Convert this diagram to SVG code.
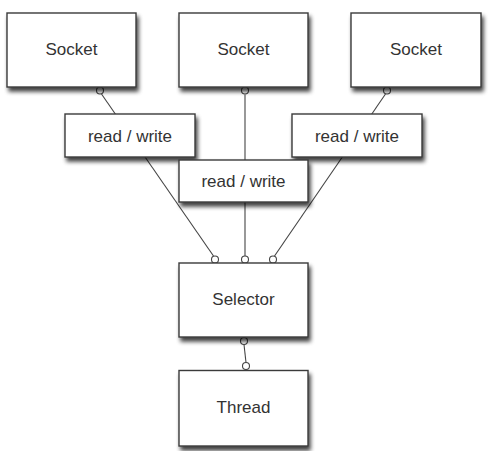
<svg xmlns="http://www.w3.org/2000/svg" width="489" height="451" viewBox="0 0 489 451">
  <defs>
    <filter id="shadow" x="-10%" y="-10%" width="130%" height="140%">
      <feGaussianBlur in="SourceAlpha" stdDeviation="2"/>
      <feOffset dx="2" dy="3.5" result="b"/>
      <feComponentTransfer><feFuncA type="linear" slope="0.75"/></feComponentTransfer>
      <feMerge><feMergeNode/><feMergeNode in="SourceGraphic"/></feMerge>
    </filter>
  </defs>
  <style>
    .box { fill: #ffffff; stroke: #3a3a3a; stroke-width: 1.4; filter: url(#shadow); }
    .lbl { font-family: "Liberation Sans", Arial, sans-serif; font-size: 17px; fill: #333333; text-anchor: middle; }
    .wire { stroke: #444444; stroke-width: 1.1; fill: none; }
    .end { fill: #ffffff; stroke: #444444; stroke-width: 1.1; }
  </style>
  <rect width="489" height="451" fill="#ffffff"/>

  <g id="connectors">
    <line class="wire" x1="101.5" y1="94" x2="213.5" y2="256"/>
    <line class="wire" x1="245" y1="94.5" x2="245" y2="256"/>
    <line class="wire" x1="385.5" y1="94" x2="274.5" y2="256"/>
    <line class="wire" x1="244" y1="344.5" x2="246" y2="362.5"/>
    <circle class="end" cx="100" cy="90.5" r="3.5"/>
    <circle class="end" cx="245" cy="90.5" r="3.5"/>
    <circle class="end" cx="387" cy="90.5" r="3.5"/>
    <circle class="end" cx="215" cy="259.5" r="3.5"/>
    <circle class="end" cx="245" cy="259.5" r="3.5"/>
    <circle class="end" cx="273" cy="259.5" r="3.5"/>
    <circle class="end" cx="244" cy="341" r="3.5"/>
    <circle class="end" cx="246" cy="366" r="3.5"/>
  </g>

  <g id="socket1">
    <rect class="box" x="7" y="13" width="129" height="74"/>
    <text class="lbl" x="71.5" y="55">Socket</text>
  </g>
  <g id="socket2">
    <rect class="box" x="179" y="13" width="129" height="74"/>
    <text class="lbl" x="243.5" y="55">Socket</text>
  </g>
  <g id="socket3">
    <rect class="box" x="351" y="13" width="130" height="74"/>
    <text class="lbl" x="416" y="55">Socket</text>
  </g>
  <g id="rw1">
    <rect class="box" x="65" y="114" width="130" height="43"/>
    <text class="lbl" x="130" y="141.5">read / write</text>
  </g>
  <g id="rw3">
    <rect class="box" x="292" y="114" width="130" height="43"/>
    <text class="lbl" x="357" y="141.5">read / write</text>
  </g>
  <g id="rw2">
    <rect class="box" x="179" y="160" width="129" height="42"/>
    <text class="lbl" x="243.5" y="187">read / write</text>
  </g>
  <g id="selector">
    <rect class="box" x="179" y="263" width="129" height="74"/>
    <text class="lbl" x="243.5" y="305">Selector</text>
  </g>
  <g id="thread">
    <rect class="box" x="179" y="370.5" width="129" height="75.5"/>
    <text class="lbl" x="243.5" y="413">Thread</text>
  </g>
</svg>
